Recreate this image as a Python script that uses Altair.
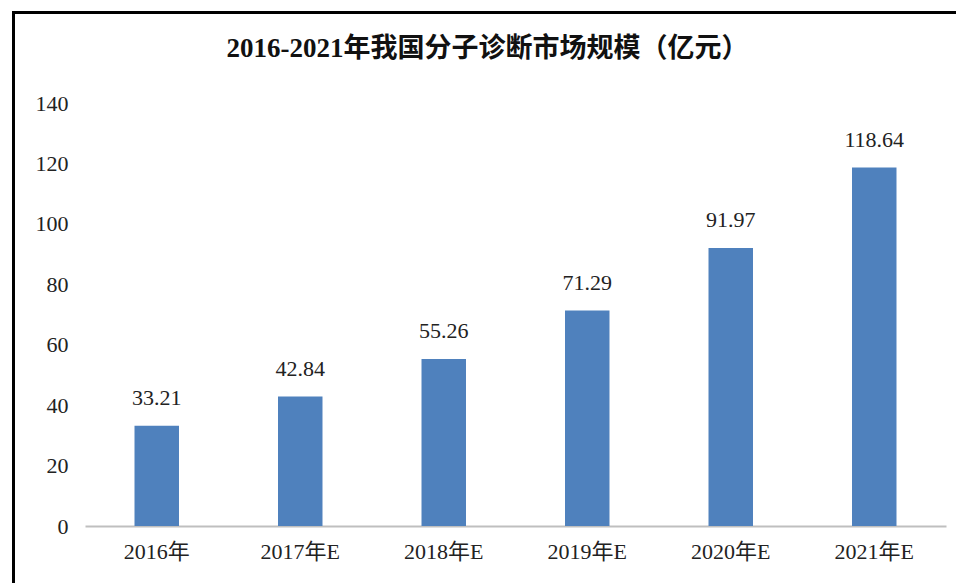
import altair as alt
import pandas as pd

categories = ["2016年", "2017年E", "2018年E", "2019年E", "2020年E", "2021年E"]
values = [33.21, 42.84, 55.26, 71.29, 91.97, 118.64]
labels = ["33.21", "42.84", "55.26", "71.29", "91.97", "118.64"]

df = pd.DataFrame({"cat": categories, "val": values, "lab": labels})

FONT = "'Liberation Serif', 'Times New Roman', 'Noto Sans CJK SC', serif"

x = alt.X("cat:N", sort=categories, title=None,
          scale=alt.Scale(paddingInner=0.69, paddingOuter=0.345),
          axis=alt.Axis(labelAngle=0, labelFont=FONT, labelFontSize=22, labelColor="#222222",
                        domainColor="#bfbfbf", domainWidth=2, ticks=False, labelPadding=15))
y = alt.Y("val:Q", title=None,
          scale=alt.Scale(domain=[0, 140]),
          axis=alt.Axis(values=[0, 20, 40, 60, 80, 100, 120, 140], grid=False, domain=False,
                        ticks=False, labelFont=FONT, labelFontSize=22, labelColor="#222222",
                        labelPadding=17))

bars = alt.Chart(df).mark_bar(color="#4f81bd").encode(x=x, y=y)
text = alt.Chart(df).mark_text(baseline="alphabetic", dy=-21, font=FONT, fontSize=22,
                               color="#222222").encode(x=alt.X("cat:N", sort=categories), y="val:Q", text="lab:N")

frame_df = pd.DataFrame({"k": [0]})
left_line = alt.Chart(frame_df).mark_rule(color="#000000", strokeWidth=3, clip=False).encode(
    x=alt.value(-71.5), y=alt.value(-91.5), y2=alt.value(480))
top_line = alt.Chart(frame_df).mark_rule(color="#000000", strokeWidth=3, clip=False).encode(
    x=alt.value(-73), x2=alt.value(880), y=alt.value(-90.5))

chart = alt.layer(bars, text, left_line, top_line).properties(
    width=861, height=423,
    autosize=alt.AutoSizeParams(type="none"),
    padding={"left": 77, "top": 95, "right": 10, "bottom": 58},
    title=alt.TitleParams("2016-2021年我国分子诊断市场规模（亿元）", font=FONT, fontSize=27,
                          fontWeight="bold", color="#111111", offset=-53, dx=-28),
).configure_view(stroke=None)

chart.save("out.html", embed_options={"renderer": "svg", "actions": False})
